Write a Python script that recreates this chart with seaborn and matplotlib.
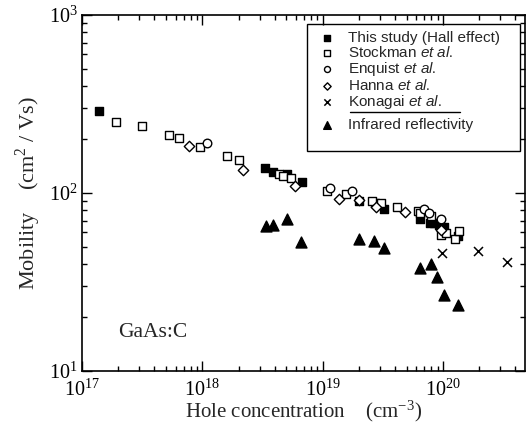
import matplotlib
matplotlib.use("Agg")
import matplotlib.pyplot as plt
import seaborn as sns
import pandas as pd
from matplotlib.lines import Line2D
from matplotlib.patches import Rectangle
from matplotlib.ticker import LogLocator, NullFormatter

# ---- data ----
hall_x = [1.39e17, 3.34e18, 3.85e18, 5.1e18, 6.7e18, 2.0e19, 2.7e19, 3.25e19,
          6.41e19, 7.82e19, 8.49e19, 9.23e19, 1.02e20, 1.33e20]
hall_y = [289, 138, 131, 128, 115, 90, 87.5, 81, 71, 68, 67.6, 66, 64, 57]

stockman_x = [1.91e17, 3.18e17, 5.24e17, 6.38e17, 9.48e17, 1.60e18, 2.0e18,
              4.3e18, 4.65e18, 5.5e18, 1.09e19, 1.56e19, 2.58e19, 3.05e19,
              4.17e19, 6.14e19, 6.4e19, 8.0e19, 9.7e19, 1.06e20, 1.26e20, 1.37e20]
stockman_y = [251, 237, 211, 204, 181, 162, 154, 128, 124, 121, 103, 98.6,
              90.6, 87.5, 83.2, 79.6, 77, 74, 58, 59.4, 55, 61.4]

enquist_x = [1.09e18, 1.16e19, 1.75e19, 6.98e19, 7.68e19, 9.6e19]
enquist_y = [190, 107, 102.6, 80.9, 77.4, 71.4]

hanna_x = [7.78e17, 2.18e18, 5.86e18, 1.36e19, 2.0e19, 2.79e19, 4.79e19, 9.7e19]
hanna_y = [183, 134, 109, 92.3, 91, 83.8, 77.9, 62]

konagai_x = [9.8e19, 1.95e20, 3.41e20]
konagai_y = [46.3, 47.4, 40.9]

ir_x = [3.39e18, 3.85e18, 5.1e18, 6.65e18, 2.0e19, 2.67e19, 3.23e19,
        6.41e19, 7.98e19, 8.83e19, 1.02e20, 1.34e20]
ir_y = [65.3, 66.4, 71, 53, 55.4, 54, 49.3, 37.8, 39.7, 33.9, 26.6, 23.5]

labels = ["This study (Hall effect)",
          r"Stockman $\mathit{et\ al.}$",
          r"Enquist $\mathit{et\ al.}$",
          r"Hanna $\mathit{et\ al.}$",
          r"Konagai $\mathit{et\ al.}$",
          "Infrared reflectivity"]

# ---- style ----
sns.set_style("ticks")
plt.rcParams.update({
    "font.family": ["Liberation Serif", "DejaVu Serif"],
    "mathtext.fontset": "custom",
    "mathtext.rm": "Liberation Serif",
    "mathtext.it": "Liberation Sans:italic",
    "mathtext.bf": "Liberation Serif:bold",
    "mathtext.fallback": "stix",
    "axes.linewidth": 1.2,
    "axes.edgecolor": "black",
})

fig = plt.figure(figsize=(5.32, 4.25), dpi=100)
ax = fig.add_axes([82 / 532, 1 - 371 / 425, 443 / 532, 356 / 425])

series = [
    (hall_x, hall_y, "s", "black", "black", 34, 1.0),
    (stockman_x, stockman_y, "s", "white", "black", 34, 1.0),
    (enquist_x, enquist_y, "o", "white", "black", 38, 1.0),
    (hanna_x, hanna_y, "D", "white", "black", 28, 1.0),
    (konagai_x, konagai_y, "x", "black", "black", 42, 1.0),
    (ir_x, ir_y, "^", "black", "black", 62, 1.0),
]

for (xs, ys, m, fc, ec, s, lw), lab in zip(series, labels):
    df = pd.DataFrame({"x": xs, "y": ys})
    if m == "x":
        sns.scatterplot(data=df, x="x", y="y", marker=m, s=s, color="black",
                        linewidth=1.1, ax=ax, label=lab, zorder=3)
    else:
        sns.scatterplot(data=df, x="x", y="y", marker=m, s=s, facecolor=fc,
                        edgecolor=ec, linewidth=lw, ax=ax, label=lab, zorder=3)

ax.set_xscale("log")
ax.set_yscale("log")
ax.set_xlim(1e17, 4.8e20)
ax.set_ylim(10, 1000)

ax.xaxis.set_major_locator(LogLocator(base=10, numticks=10))
ax.xaxis.set_minor_locator(LogLocator(base=10, subs=range(2, 10), numticks=20))
ax.yaxis.set_minor_locator(LogLocator(base=10, subs=range(2, 10), numticks=20))
ax.xaxis.set_minor_formatter(NullFormatter())
ax.yaxis.set_minor_formatter(NullFormatter())

ax.tick_params(which="both", direction="in", top=True, right=True,
               width=1.0, colors="black", labelsize=14.5)
ax.tick_params(which="major", length=7)
ax.tick_params(which="minor", length=3.5)
ax.tick_params(axis="x", which="major", pad=6)
ax.tick_params(axis="y", which="major", pad=3)

ax.set_xlabel(r"Hole concentration    (cm$^{-3}$)", fontsize=15, labelpad=-1.5)
ax.set_ylabel(r"Mobility    (cm$^{2}$ / Vs)", fontsize=16, labelpad=4)

ax.text(0.082, 0.107, "GaAs:C", transform=ax.transAxes, fontsize=15.5,
        va="center", ha="left")

# ---- legend ----
handles, labs = ax.get_legend_handles_labels()
if ax.get_legend():
    ax.get_legend().remove()
leg_kw = dict(frameon=False, prop={"family": "Liberation Sans", "size": 11},
              handlelength=1.0, handletextpad=0.9, borderpad=0.0,
              borderaxespad=0.0, labelspacing=0.0, markerscale=0.7)
leg1 = ax.legend(handles[:5], labs[:5], loc="upper left",
                 bbox_to_anchor=(0.535, 0.955), **leg_kw)
ax.add_artist(leg1)
leg2 = ax.legend(handles[5:], labs[5:], loc="upper left",
                 bbox_to_anchor=(0.535, 0.71), **leg_kw)

ax.add_patch(Rectangle((0.508, 0.618), 0.481, 0.357, transform=ax.transAxes,
                       fill=False, edgecolor="black", linewidth=1.0, zorder=5))
ax.add_line(Line2D([0.605, 0.853], [0.727, 0.727], transform=ax.transAxes,
                   color="black", linewidth=1.0))

fig.savefig("out.png", dpi=100)
